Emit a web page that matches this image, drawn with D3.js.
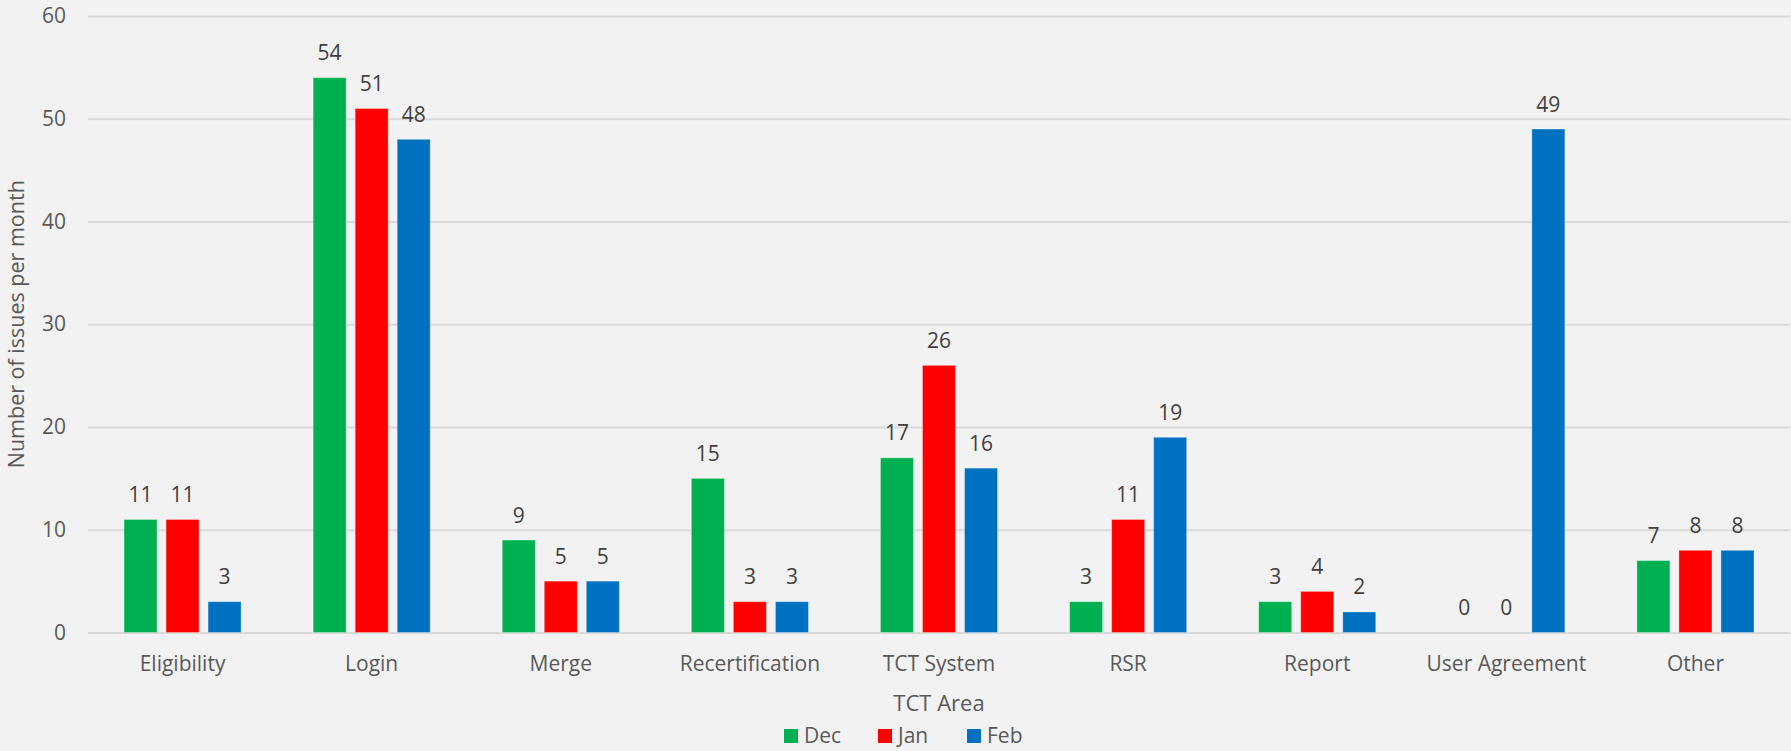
<!DOCTYPE html>
<html>
<head>
<meta charset="utf-8">
<script src="https://cdn.jsdelivr.net/npm/d3@7"></script>
<style>
  html, body { margin: 0; padding: 0; background: #F2F2F2; }
  svg { display: block; }
</style>
</head>
<body>
<svg id="chart" width="1791" height="751"></svg>
<script>
const categories = ["Eligibility", "Login", "Merge", "Recertification", "TCT System", "RSR", "Report", "User Agreement", "Other"];
const seriesNames = ["Dec", "Jan", "Feb"];
const decValues = [11, 54, 9, 15, 17, 3, 3, 0, 7];
const janValues = [11, 51, 5, 3, 26, 11, 4, 0, 8];
const febValues = [3, 48, 5, 3, 16, 19, 2, 49, 8];
const seriesColors = ["#00B050", "#FF0000", "#0070C0"];
const yTicks = [0, 10, 20, 30, 40, 50, 60];
const xAxisTitle = "TCT Area";
const yAxisTitle = "Number of issues per month";

const series = [decValues, janValues, febValues];
const FONT = "'Open Sans', 'Noto Sans', sans-serif";
const FS = 21;

const svg = d3.select("#chart");
svg.append("rect").attr("width", 1791).attr("height", 751).attr("fill", "#F2F2F2");

const plotLeft = 88, plotRight = 1790, plotTop = 16, plotBottom = 632.5;

const x0 = d3.scaleBand().domain(categories).range([plotLeft, plotRight]).paddingInner(0).paddingOuter(0);
const x1 = d3.scaleBand().domain(seriesNames).range([36, x0.bandwidth() - 36]).paddingInner(0.214).paddingOuter(0);
const y = d3.scaleLinear().domain([0, 60]).range([plotBottom, plotTop]);

// gridlines
const grid = svg.append("g")
  .attr("transform", `translate(${plotLeft},0)`)
  .call(d3.axisLeft(y).tickValues(yTicks).tickSize(-(plotRight - plotLeft)).tickFormat(""));
grid.select(".domain").remove();
grid.selectAll(".tick line").attr("stroke", "#D9D9D9").attr("stroke-width", 2);

// y tick labels
const yAxis = svg.append("g")
  .attr("transform", `translate(${plotLeft},0)`)
  .call(d3.axisLeft(y).tickValues(yTicks).tickSize(0).tickPadding(22));
yAxis.select(".domain").remove();
yAxis.selectAll("text")
  .attr("font-family", FONT).attr("font-size", FS).attr("fill", "#595959");

// bars
const groups = svg.append("g").selectAll("g")
  .data(categories)
  .join("g")
  .attr("transform", d => `translate(${x0(d)},0)`);

groups.selectAll("rect")
  .data((c, i) => seriesNames.map((s, k) => ({ s, v: series[k][i], k })))
  .join("rect")
  .attr("x", d => x1(d.s))
  .attr("width", x1.bandwidth())
  .attr("y", d => y(d.v))
  .attr("height", d => y(0) - y(d.v))
  .attr("fill", d => seriesColors[d.k])
  .attr("stroke", "rgba(255,255,255,0.35)")
  .attr("stroke-width", 1);

// data labels
groups.selectAll("text")
  .data((c, i) => seriesNames.map((s, k) => ({ s, v: series[k][i], k })))
  .join("text")
  .attr("x", d => x1(d.s) + x1.bandwidth() / 2)
  .attr("y", d => y(d.v) - 17.5)
  .attr("text-anchor", "middle")
  .attr("font-family", FONT).attr("font-size", FS).attr("fill", "#404040")
  .text(d => d.v);

// x axis labels
const xAxis = svg.append("g")
  .attr("transform", `translate(0,${plotBottom})`)
  .call(d3.axisBottom(x0).tickSize(0).tickPadding(0));
xAxis.select(".domain").remove();
xAxis.selectAll("text")
  .attr("font-family", FONT).attr("font-size", FS).attr("fill", "#595959")
  .attr("dy", null)
  .attr("y", 38);

// axis titles
svg.append("text")
  .attr("x", (plotLeft + plotRight) / 2).attr("y", 711)
  .attr("text-anchor", "middle")
  .attr("font-family", FONT).attr("font-size", 22).attr("fill", "#595959")
  .text(xAxisTitle);

svg.append("text")
  .attr("transform", `translate(24,${(plotTop + plotBottom) / 2}) rotate(-90)`)
  .attr("text-anchor", "middle")
  .attr("font-family", FONT).attr("font-size", 21.5).attr("fill", "#595959")
  .text(yAxisTitle);

// legend
const legendX = [784, 878, 967];
const legend = svg.append("g").selectAll("g")
  .data(seriesNames)
  .join("g")
  .attr("transform", (d, i) => `translate(${legendX[i]},729)`);
legend.append("rect").attr("width", 14).attr("height", 14).attr("fill", (d, i) => seriesColors[i]);
legend.append("text")
  .attr("x", 20).attr("y", 13.5)
  .attr("font-family", FONT).attr("font-size", FS).attr("fill", "#595959")
  .text(d => d);
</script>
</body>
</html>
